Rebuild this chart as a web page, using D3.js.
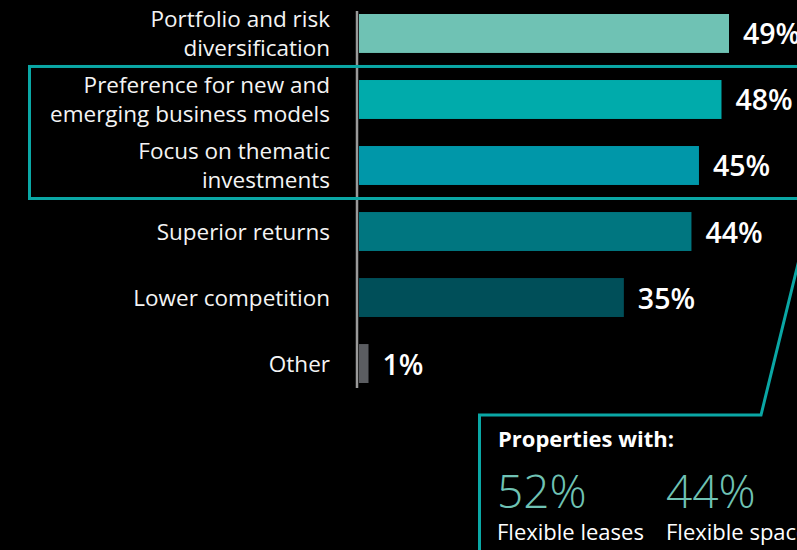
<!DOCTYPE html>
<html>
<head>
<meta charset="utf-8">
<script src="https://cdn.jsdelivr.net/npm/d3@7"></script>
<style>
  html, body { margin: 0; padding: 0; background: #000; }
  svg { display: block; font-family: "Open Sans", sans-serif; }
</style>
</head>
<body>
<div id="chart"></div>
<script>
// chart data
var categories = [
  ["Portfolio and risk", "diversification"],
  ["Preference for new and", "emerging business models"],
  ["Focus on thematic", "investments"],
  ["Superior returns"],
  ["Lower competition"],
  ["Other"]
];
var values = [49, 48, 45, 44, 35, 1];
var barColors = ["#6fc2b4", "#00abab", "#0097a9", "#007680", "#004f59", "#5b5d61"];

// callout data
var calloutTitle = "Properties with:";
var calloutValues = [52, 44];
var calloutLabels = ["Flexible leases", "Flexible space"];

var svgWidth = 797;
var svgHeight = 550;
var teal = "#0aa7a5";

var svg = d3.select("#chart")
  .append("svg")
  .attr("width", svgWidth)
  .attr("height", svgHeight);

svg.append("rect")
  .attr("width", svgWidth)
  .attr("height", svgHeight)
  .attr("fill", "#000");

// scales
var idx = d3.range(values.length);
var y = d3.scaleBand()
  .domain(idx)
  .range([14, 383])
  .paddingInner(0.41)
  .paddingOuter(0);

var x = d3.scaleLinear()
  .domain([0, 49])
  .range([361, 729]);

var barX = 359;
var gap = (y.step() - y.bandwidth()) / 2;

// bars
svg.selectAll("rect.bar")
  .data(values)
  .enter()
  .append("rect")
  .attr("class", "bar")
  .attr("x", barX)
  .attr("y", (d, i) => y(i))
  .attr("width", d => x(d) - barX)
  .attr("height", y.bandwidth())
  .attr("fill", (d, i) => barColors[i]);

// axis line (no ticks)
var leftAxis = d3.axisLeft(y).tickSize(0).tickFormat("");
var axisG = svg.append("g")
  .attr("transform", `translate(${barX - 2}, 0)`)
  .call(leftAxis);
axisG.select(".domain")
  .attr("d", `M0,11V388`)
  .attr("stroke", "#9a9a9a")
  .attr("stroke-width", 2.5);

// category labels
var lineH = 29;
svg.selectAll("text.cat")
  .data(categories)
  .enter()
  .append("text")
  .attr("class", "cat")
  .attr("text-anchor", "end")
  .attr("fill", "#f4f4f4")
  .style("font-size", "22.5px")
  .each(function(lines, i) {
    var mid = y(i) + y.bandwidth() / 2;
    var first = mid + 8 - (lines.length - 1) * lineH / 2;
    d3.select(this).selectAll("tspan")
      .data(lines)
      .enter()
      .append("tspan")
      .attr("x", 330)
      .attr("y", (l, j) => first + j * lineH)
      .text(l => l);
  });

// value labels
svg.selectAll("text.val")
  .data(values)
  .enter()
  .append("text")
  .attr("class", "val")
  .attr("x", d => x(d) + 14)
  .attr("y", (d, i) => y(i) + y.bandwidth() / 2 + 11)
  .attr("fill", "#fff")
  .style("font-size", "28.5px")
  .style("font-weight", 600)
  .text(d => d + "%");

// highlight box around 2nd and 3rd bar
var boxTop = y(1) - gap;
var boxBottom = y(2) + y.bandwidth() + gap;
svg.append("rect")
  .attr("x", 29.5)
  .attr("y", boxTop)
  .attr("width", 800)
  .attr("height", boxBottom - boxTop)
  .attr("fill", "none")
  .attr("stroke", teal)
  .attr("stroke-width", 3);

// callout box with connector
var cTop = 415;
svg.append("path")
  .attr("d", `M479.5,${svgHeight + 5}V${cTop}H761L814,${boxBottom}`)
  .attr("fill", "none")
  .attr("stroke", teal)
  .attr("stroke-width", 3);

svg.append("text")
  .attr("x", 498)
  .attr("y", 447)
  .attr("fill", "#fff")
  .style("font-size", "22px")
  .style("font-weight", 700)
  .text(calloutTitle);

var colX = [497, 666];
svg.selectAll("text.cval")
  .data(calloutValues)
  .enter()
  .append("text")
  .attr("class", "cval")
  .attr("x", (d, i) => colX[i])
  .attr("y", 508)
  .attr("fill", "#6fc2b4")
  .style("font-size", "46px")
  .style("font-weight", 300)
  .text(d => d + "%");

svg.selectAll("text.clab")
  .data(calloutLabels)
  .enter()
  .append("text")
  .attr("class", "clab")
  .attr("x", (d, i) => colX[i])
  .attr("y", 540)
  .attr("fill", "#fff")
  .style("font-size", "22px")
  .text(d => d);
</script>
</body>
</html>
